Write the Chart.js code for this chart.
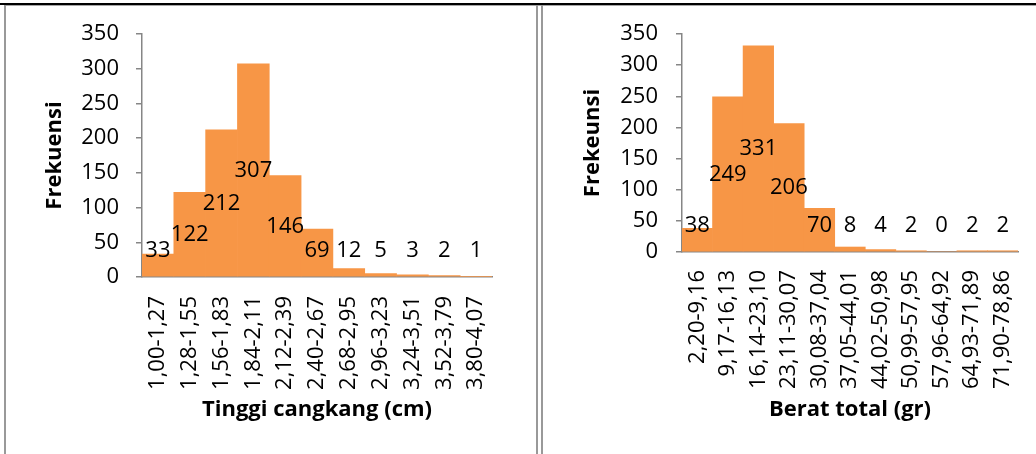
<!DOCTYPE html>
<html>
<head>
<meta charset="utf-8">
<script src="https://cdn.jsdelivr.net/npm/chart.js@4.4.1/dist/chart.umd.min.js"></script>
<style>
    body { margin: 0; background: #fff; }
    #page { position: relative; width: 1036px; height: 454px; overflow: hidden; background: #fff; }
    #page canvas { position: absolute; top: 0; }
    .rule { position: absolute; }
</style>
</head>
<body>
<div id="page">
    <canvas id="tinggiChart" width="536" height="454" style="left:0"></canvas>
    <canvas id="beratChart" width="493" height="454" style="left:543px"></canvas>

    <!-- table frame around the two charts -->
    <div class="rule" style="left:0;top:3px;width:1036px;height:2px;background:#000"></div>
    <div class="rule" style="left:4px;top:5px;width:1032px;height:1px;background:#a6a6a6"></div>
    <div class="rule" style="left:4px;top:5px;width:2px;height:449px;background:#999"></div>
    <div class="rule" style="left:536px;top:5px;width:2px;height:449px;background:#999"></div>
    <div class="rule" style="left:541px;top:5px;width:2px;height:449px;background:#999"></div>
</div>

<script>
// Shell height classes (cm) and their counts
const tinggiLabels = ['1,00-1,27', '1,28-1,55', '1,56-1,83', '1,84-2,11', '2,12-2,39', '2,40-2,67',
                      '2,68-2,95', '2,96-3,23', '3,24-3,51', '3,52-3,79', '3,80-4,07'];
const tinggiCounts = [33, 122, 212, 307, 146, 69, 12, 5, 3, 2, 1];

// Total weight classes (gr) and their counts
const beratLabels = ['2,20-9,16', '9,17-16,13', '16,14-23,10', '23,11-30,07', '30,08-37,04', '37,05-44,01',
                     '44,02-50,98', '50,99-57,95', '57,96-64,92', '64,93-71,89', '71,90-78,86'];
const beratCounts = [38, 249, 331, 206, 70, 8, 4, 2, 0, 2, 2];

// Shared frequency axis
const yMin = 0;
const yMax = 350;
const yStep = 50;

const BAR_COLOR = '#F79646';
const AXIS_COLOR = '#868686';
const FONT_FAMILY = '"Open Sans", "Noto Sans", sans-serif';

Chart.defaults.font.family = FONT_FAMILY;
Chart.defaults.font.size = 22;
Chart.defaults.color = '#000';

// Writes each count half way up its bar, but never lower than just above the axis
const valueLabels = {
    id: 'valueLabels',
    afterDatasetsDraw(chart) {
        const { ctx } = chart;
        const yScale = chart.scales.y;
        const base = yScale.getPixelForValue(0);
        const values = chart.data.datasets[0].data;
        const meta = chart.getDatasetMeta(0);

        ctx.save();
        ctx.font = '22px ' + FONT_FAMILY;
        ctx.fillStyle = '#000';
        ctx.textAlign = 'center';
        ctx.textBaseline = 'middle';
        meta.data.forEach((bar, i) => {
            const y = Math.min(yScale.getPixelForValue(values[i] / 2), base - 26);
            ctx.fillText(String(values[i]), bar.x, y);
        });
        ctx.restore();
    }
};

/**
 * Draws one frequency histogram.
 * @param {string} canvasId - target canvas
 * @param {Array} labels - class intervals
 * @param {Array} counts - frequency of each class
 * @param {string} xTitle - x axis title
 * @param {string} yTitle - y axis title
 * @param {Object} box - axis sizes and paddings for this panel
 */
function buildHistogram(canvasId, labels, counts, xTitle, yTitle, box) {
    return new Chart(document.getElementById(canvasId), {
        type: 'bar',
        data: {
            labels: labels,
            datasets: [{
                data: counts,
                backgroundColor: BAR_COLOR,
                borderWidth: 0,
                barPercentage: 1,
                categoryPercentage: 1
            }]
        },
        options: {
            responsive: false,
            animation: false,
            layout: { padding: { left: 0, top: box.top, right: box.right, bottom: 0 } },
            plugins: { legend: { display: false }, tooltip: { enabled: false } },
            scales: {
                x: {
                    grid: { display: false, drawTicks: false },
                    border: { color: AXIS_COLOR, width: 1.5 },
                    ticks: { autoSkip: false, minRotation: 90, maxRotation: 90, padding: box.xLabelPad, color: '#000' },
                    title: { display: true, text: xTitle, color: '#000', font: { weight: 'bold' }, padding: { top: 0, bottom: box.xTitlePad } },
                    afterFit: scale => {
                        // fixed height; the rotated end labels must not shrink the plot
                        scale.height = box.xHeight;
                        scale.paddingLeft = 0;
                        scale.paddingRight = 0;
                    }
                },
                y: {
                    min: yMin,
                    max: yMax,
                    ticks: { stepSize: yStep, padding: box.yLabelPad, color: '#000' },
                    grid: { drawOnChartArea: false, drawTicks: true, tickLength: 6, color: AXIS_COLOR, lineWidth: 1.5 },
                    border: { color: AXIS_COLOR, width: 1.5 },
                    title: { display: true, text: yTitle, color: '#000', font: { weight: 'bold' }, padding: { top: box.yTitlePad, bottom: 0 } },
                    afterFit: scale => { scale.width = box.yWidth; }
                }
            }
        },
        plugins: [valueLabels]
    });
}

buildHistogram('tinggiChart', tinggiLabels, tinggiCounts, 'Tinggi cangkang (cm)', 'Frekuensi', {
    top: 34, right: 44, yWidth: 142, xHeight: 177,
    yLabelPad: 17, xLabelPad: 19, yTitlePad: 42, xTitlePad: 31
});

buildHistogram('beratChart', beratLabels, beratCounts, 'Berat total (gr)', 'Frekeunsi', {
    top: 34, right: 18, yWidth: 139, xHeight: 202,
    yLabelPad: 18, xLabelPad: 18, yTitlePad: 37, xTitlePad: 31
});
</script>
</body>
</html>
